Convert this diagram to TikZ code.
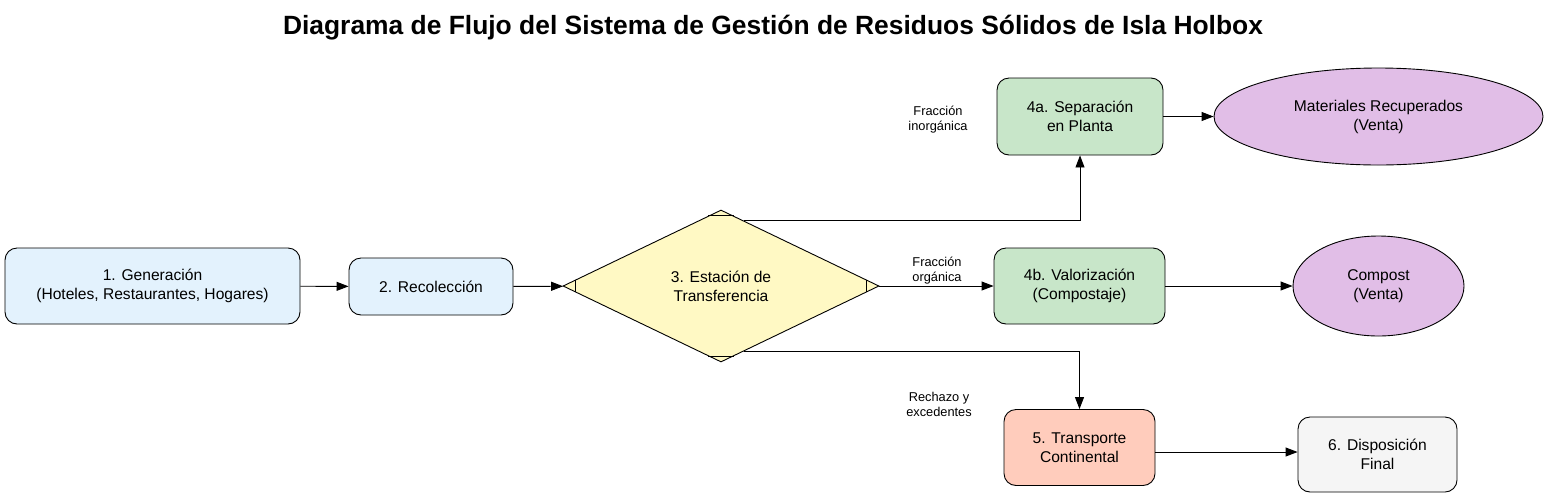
\documentclass[tikz,border=0pt]{standalone}
\usepackage{fontspec}
\setmainfont{Liberation Sans}
\usetikzlibrary{shapes.geometric,arrows.meta,calc}
\definecolor{cblue}{HTML}{E3F2FD}
\definecolor{cyellow}{HTML}{FFF9C4}
\definecolor{cgreen}{HTML}{C8E6C9}
\definecolor{corange}{HTML}{FFCCBC}
\definecolor{cgray}{HTML}{F5F5F5}
\definecolor{cpurple}{HTML}{E1BEE7}
\tikzset{
  box/.style={draw=black, line width=0.9pt, rounded corners=12pt, align=center, inner sep=0pt,
    font=\fontsize{15.6}{19}\selectfont},
  oval/.style={draw=black, line width=0.9pt, ellipse, align=center, inner sep=0pt,
    font=\fontsize{15.6}{19}\selectfont, fill=cpurple},
  lbl/.style={align=center, inner sep=0pt, font=\fontsize{12.8}{15}\selectfont},
  conn/.style={line width=0.9pt, -{Triangle[length=12pt,width=9pt]}},
}
\begin{document}
\begin{tikzpicture}[x=1pt,y=-1pt]
\useasboundingbox (0,0) rectangle (1547,499);
\node[font=\fontsize{26.4}{30}\selectfont\bfseries] (title) at (773,28) {Diagrama de Flujo del Sistema de Gestión de Residuos Sólidos de Isla Holbox};

\node[box, fill=cblue, minimum width=295, minimum height=76] (n1) at (152.5,286) {1. Generación\\(Hoteles, Restaurantes, Hogares)};
\node[box, fill=cblue, minimum width=164, minimum height=57] (n2) at (431,286.5) {2. Recolección};
\node[draw=black, line width=0.9pt, diamond, fill=cyellow, minimum width=316, minimum height=152, inner sep=0pt, align=center,
  font=\fontsize{15.6}{19}\selectfont] (n3) at (721,286) {3. Estación de\\Transferencia};
\draw[line width=0.9pt] ($(n3.north)!0.08!(n3.west)$) -- ($(n3.north)!0.08!(n3.east)$);
\draw[line width=0.9pt] ($(n3.south)!0.08!(n3.west)$) -- ($(n3.south)!0.08!(n3.east)$);
\draw[line width=0.9pt] ($(n3.west)!0.08!(n3.north)$) -- ($(n3.west)!0.08!(n3.south)$);
\draw[line width=0.9pt] ($(n3.east)!0.08!(n3.north)$) -- ($(n3.east)!0.08!(n3.south)$);

\node[box, fill=cgreen, minimum width=166, minimum height=77] (n4a) at (1080,116.5) {4a. Separación\\en Planta};
\node[box, fill=cgreen, minimum width=171, minimum height=76] (n4b) at (1079.5,286) {4b. Valorización\\(Compostaje)};
\node[box, fill=corange, minimum width=151, minimum height=76] (n5) at (1079.5,447.5) {5. Transporte\\Continental};
\node[box, fill=cgray, minimum width=159, minimum height=75] (n6) at (1377.5,454.5) {6. Disposición\\Final};
\node[oval, minimum width=329, minimum height=97] (m) at (1378.5,116.5) {Materiales Recuperados\\(Venta)};
\node[oval, minimum width=171, minimum height=100] (c) at (1378.5,286) {Compost\\(Venta)};

\node[lbl] (l1) at (938,120) {Fracción\\inorgánica};
\node[lbl] (l2) at (937,271) {Fracción\\orgánica};
\node[lbl] (l3) at (939,404) {Rechazo y\\excedentes};

\coordinate (ta) at ($(n3.north)!0.145!(n3.east)$);
\coordinate (tb) at ($(n3.south)!0.145!(n3.east)$);
\coordinate (s56) at ($(n5.east)+(0,4.5)$);

\draw[conn] (n1) -- (n2);
\draw[conn] (n2) -- (n3);
\draw[conn] (ta) -| (n4a.south);
\draw[conn] (n3.east) -- (n4b.west);
\draw[conn] (tb) -| (n5.north);
\draw[conn] (n4a) -- (m);
\draw[conn] (n4b) -- (c);
\draw[conn] (s56) -- (s56 -| n6.west);
\end{tikzpicture}
\end{document}
